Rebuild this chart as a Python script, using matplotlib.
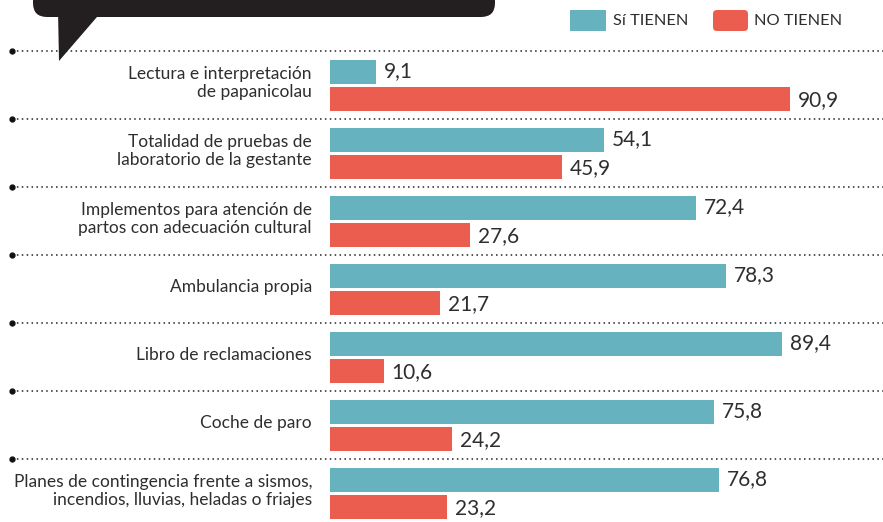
import matplotlib.pyplot as plt
from matplotlib.patches import FancyBboxPatch, Polygon, Rectangle

categories = [
    "Lectura e interpretación\nde papanicolau",
    "Totalidad de pruebas de\nlaboratorio de la gestante",
    "Implementos para atención de\npartos con adecuación cultural",
    "Ambulancia propia",
    "Libro de reclamaciones",
    "Coche de paro",
    "Planes de contingencia frente a sismos,\nincendios, lluvias, heladas o friajes",
]
si_tienen = [9.1, 54.1, 72.4, 78.3, 89.4, 75.8, 76.8]
no_tienen = [90.9, 45.9, 27.6, 21.7, 10.6, 24.2, 23.2]
legend_labels = ["Sí TIENEN", "NO TIENEN"]

TEAL = "#67b2bf"
RED = "#eb5d4f"
TXT = "#2e2e2e"

plt.rcParams['font.family'] = ['Lato', 'DejaVu Sans']

W, H = 883, 522
fig = plt.figure(figsize=(W / 100, H / 100), dpi=100)
ax = fig.add_axes([0, 0, 1, 1])

# pixel-like frame for layout; bar values map to x through the scale below
x0 = 330      # pixel where 0 sits
scale = 5.06  # pixels per unit
ax.set_xlim(-x0 / scale, (W - x0) / scale)
ax.set_ylim(H, 0)
ax.axis('off')

def px(x):
    return (x - x0) / scale

# speech bubble at the top
ax.add_patch(FancyBboxPatch((px(33), -40), px(495) - px(33), 57,
                            boxstyle="round,pad=0,rounding_size=" + str(14 / scale),
                            mutation_aspect=scale, fc="#231f20", ec="none"))
ax.add_patch(Polygon([(px(58), 10), (px(103), 10), (px(59), 61)],
                     closed=True, fc="#231f20", ec="none"))

# legend
ax.add_patch(Rectangle((px(570), 10), 36 / scale, 21, fc=TEAL, ec="none"))
ax.text(px(613), 21, legend_labels[0], fontsize=11.8, color=TXT, va='center', ha='left')
ax.add_patch(FancyBboxPatch((px(713), 10), 35 / scale, 21,
                            boxstyle="round,pad=0,rounding_size=" + str(4 / scale),
                            mutation_aspect=scale, fc=RED, ec="none"))
ax.text(px(754), 21, legend_labels[1], fontsize=11.8, color=TXT, va='center', ha='left')

step = 68
first_sep = 51
bh = 24
for i, cat in enumerate(categories):
    sep = first_sep + step * i
    ax.plot([px(12), px(W)], [sep, sep], color="#222222", lw=1.1,
            linestyle=(0, (1, 2.2)))
    ax.plot([px(12)], [sep], marker='o', ms=3.5, color="#111111")
    y_si = sep + 21
    y_no = sep + 48
    ax.barh(y_si, si_tienen[i], height=bh, color=TEAL, left=0)
    ax.barh(y_no, no_tienen[i], height=bh, color=RED, left=0)
    ax.text(si_tienen[i] + 8 / scale, y_si - 1, f"{si_tienen[i]:.1f}".replace('.', ','),
            fontsize=15, color=TXT, va='center', ha='left')
    ax.text(no_tienen[i] + 8 / scale, y_no + 1, f"{no_tienen[i]:.1f}".replace('.', ','),
            fontsize=15, color=TXT, va='center', ha='left')
    ax.text(px(312), sep + 32, cat, fontsize=12.5, color=TXT, va='center',
            ha='right', multialignment='right', linespacing=1.1)

last = first_sep + step * len(categories)
ax.plot([px(12)], [last], marker='o', ms=3.5, color="#111111", clip_on=False)

fig.savefig("out.png", dpi=100)
